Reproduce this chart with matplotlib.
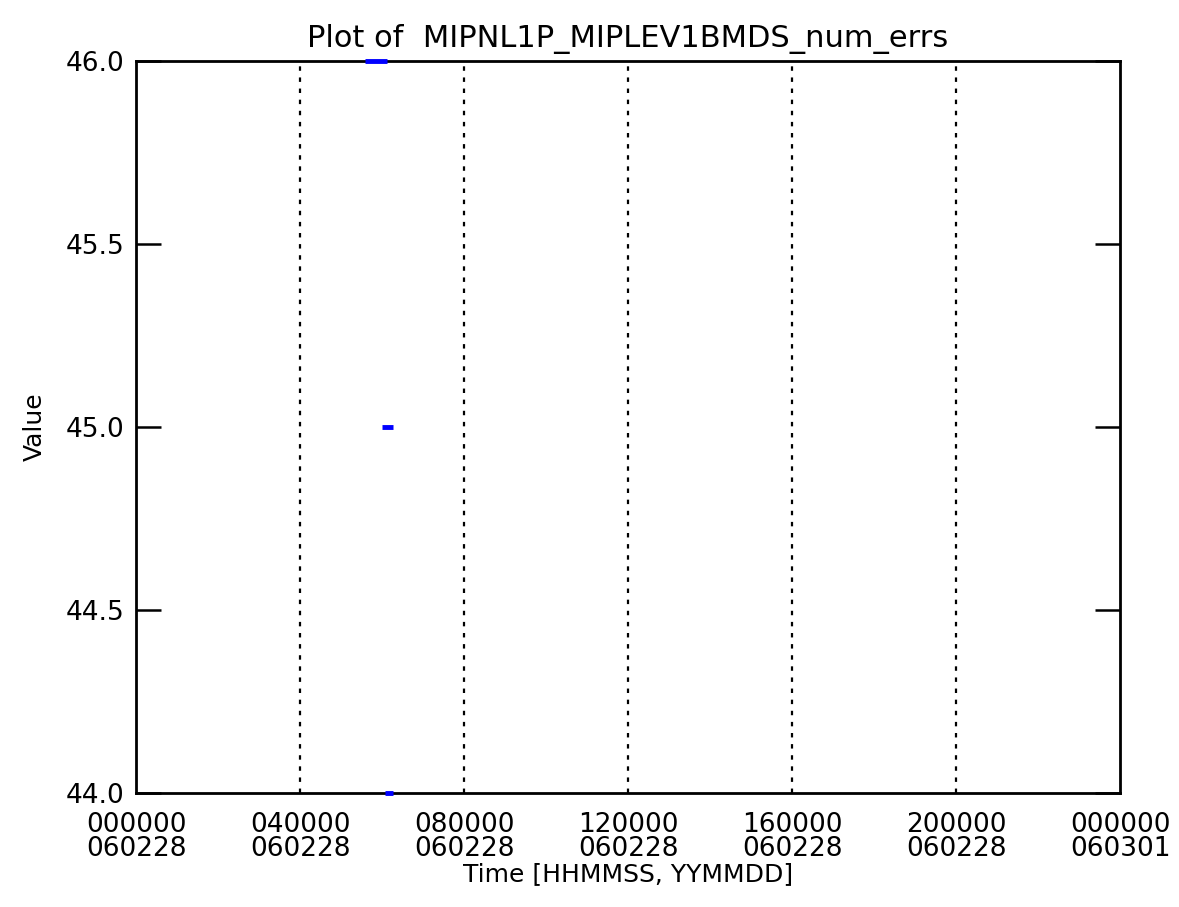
import matplotlib
matplotlib.use("Agg")
import matplotlib.pyplot as plt
import numpy as np

#### data (hours since 000000 on 060228, value); NaN breaks separate the runs
hours = [5.59, 6.11, np.nan, 5.99, 6.27, np.nan, 6.08, 6.28]
values = [46.0, 46.0, np.nan, 45.0, 45.0, np.nan, 44.0, 44.0]

xtick_hours = [0, 4, 8, 12, 16, 20, 24]
xtick_labels = ["000000\n060228", "040000\n060228", "080000\n060228",
                "120000\n060228", "160000\n060228", "200000\n060228",
                "000000\n060301"]
yticks = [44.0, 44.5, 45.0, 45.5, 46.0]

plt.rcParams['font.family'] = ['DejaVu Sans']
fs = 19

fig = plt.figure(figsize=(11.79, 9.07), dpi=100)
ax = fig.add_axes([136/1179, 1 - 793/907, (1120-136)/1179, (793-61)/907])

ax.plot(hours, values, '-', color='blue', lw=3.5, solid_capstyle='butt',
        clip_on=False, zorder=5)

ax.set_xlim(0, 24)
ax.set_ylim(44.0, 46.0)

#### dotted vertical grid at inner ticks
for h in xtick_hours[1:-1]:
    ax.axvline(h, color='black', ls=(0, (2, 3)), lw=1.6, zorder=0)

ax.set_xticks(xtick_hours)
ax.set_xticklabels(xtick_labels, fontsize=fs, linespacing=0.9)
ax.tick_params(axis='x', length=0, pad=14)
ax.set_yticks(yticks)
ax.set_yticklabels(["%.1f" % v for v in yticks], fontsize=fs)
ax.tick_params(axis='y', direction='in', length=18, width=1.8,
               left=True, right=True, pad=8)

for s in ax.spines.values():
    s.set_linewidth(2)

ax.set_title("Plot of  MIPNL1P_MIPLEV1BMDS_num_errs", fontsize=22, pad=10)
ax.set_xlabel("Time [HHMMSS, YYMMDD]", fontsize=18, labelpad=0)
ax.set_ylabel("Value", fontsize=18, labelpad=14)

fig.savefig("out.png", dpi=100)
